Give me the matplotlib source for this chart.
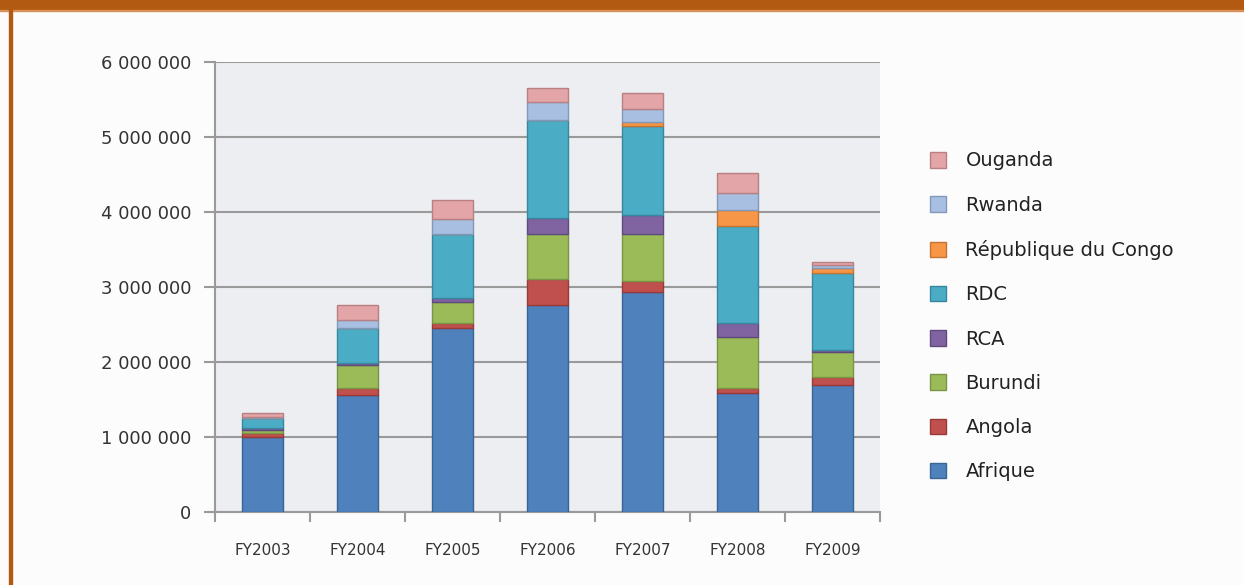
import matplotlib
matplotlib.use("Agg")
import matplotlib.pyplot as plt
from matplotlib.patches import Rectangle
import numpy as np

years = ["FY2003", "FY2004", "FY2005", "FY2006", "FY2007", "FY2008", "FY2009"]
afrique = [1000000, 1560000, 2457000, 2760000, 2937000, 1591000, 1693000]
angola = [50000, 89000, 59000, 343000, 147000, 58000, 111000]
burundi = [40000, 307000, 288000, 604000, 623000, 680000, 325000]
rca = [30000, 27000, 45000, 209000, 253000, 195000, 31000]
rdc = [130000, 466000, 854000, 1311000, 1187000, 1289000, 1023000]
congo = [0, 0, 0, 0, 57000, 214000, 66000]
rwanda = [20000, 111000, 200000, 244000, 165000, 230000, 40000]
ouganda = [50000, 200000, 257000, 178000, 214000, 259000, 40000]

series_names = ["Afrique", "Angola", "Burundi", "RCA", "RDC",
                "République du Congo", "Rwanda", "Ouganda"]
series_vals = [afrique, angola, burundi, rca, rdc, congo, rwanda, ouganda]
colors = ["#4f81bd", "#c0504d", "#9bbb59", "#8064a2", "#4bacc6",
          "#f79646", "#a9bfe2", "#e3a5a7"]
edges = ["#3a6496", "#983a37", "#7a9446", "#5f4a7c", "#37889e",
         "#c47536", "#8298bb", "#b98082"]

yticks = [0, 1000000, 2000000, 3000000, 4000000, 5000000, 6000000]
ytick_labels = ["0", "1 000 000", "2 000 000", "3 000 000", "4 000 000",
                "5 000 000", "6 000 000"]

fig = plt.figure(figsize=(12.44, 5.85), dpi=100, facecolor="#fcfcfc")
ax = fig.add_axes([215/1244, 1-512/585, 665/1244, 450/585])
ax.set_facecolor("#eceef1")

x = np.arange(len(years))
bottom = np.zeros(len(years))
handles = []
for name, vals, c, e in zip(series_names, series_vals, colors, edges):
    v = np.array(vals, dtype=float)
    h = ax.bar(x, v, width=0.43, bottom=bottom, color=c, edgecolor=e,
               linewidth=1.0, label=name, zorder=3)
    handles.append(h)
    bottom += v

ax.set_xlim(-0.5, len(years) - 0.5)
ax.set_ylim(0, 6000000)
ax.set_yticks(yticks)
ax.set_yticklabels(ytick_labels, fontsize=13, color="#333333")
ax.set_xticks(x)
ax.set_xticklabels(years, fontsize=11, color="#333333")
ax.tick_params(axis="x", length=0, pad=22)
ax.set_xticks(np.arange(-0.5, len(years)), minor=True)
ax.tick_params(axis="x", which="minor", length=7, width=1.5, color="#9a9a9a")
ax.tick_params(axis="y", length=8, width=1.5, color="#9a9a9a", pad=9)
ax.yaxis.grid(True, color="#9a9a9a", linewidth=1.5, zorder=0)
ax.set_axisbelow(True)
for s in ["top", "right"]:
    ax.spines[s].set_visible(False)
for s in ["left", "bottom"]:
    ax.spines[s].set_color("#9a9a9a")
    ax.spines[s].set_linewidth(1.5)

leg = fig.legend(handles[::-1], series_names[::-1], loc="upper left",
                 bbox_to_anchor=(912/1244, 1-134/585), frameon=False,
                 fontsize=14, handlelength=0.85, handleheight=0.85,
                 labelspacing=1.3, handletextpad=1.0, labelcolor="#222222")

# orange frame
fig.patches.append(Rectangle((0, 1-10/585), 1, 10/585, transform=fig.transFigure,
                             color="#b35a12", zorder=10))
fig.patches.append(Rectangle((0, 1-11/585), 1, 1.2/585, transform=fig.transFigure,
                             color="#d9915a", zorder=10))
fig.patches.append(Rectangle((9/1244, 0), 3/1244, 1, transform=fig.transFigure,
                             color="#b35a12", zorder=10))

fig.savefig("out.png", dpi=100, facecolor=fig.get_facecolor())
